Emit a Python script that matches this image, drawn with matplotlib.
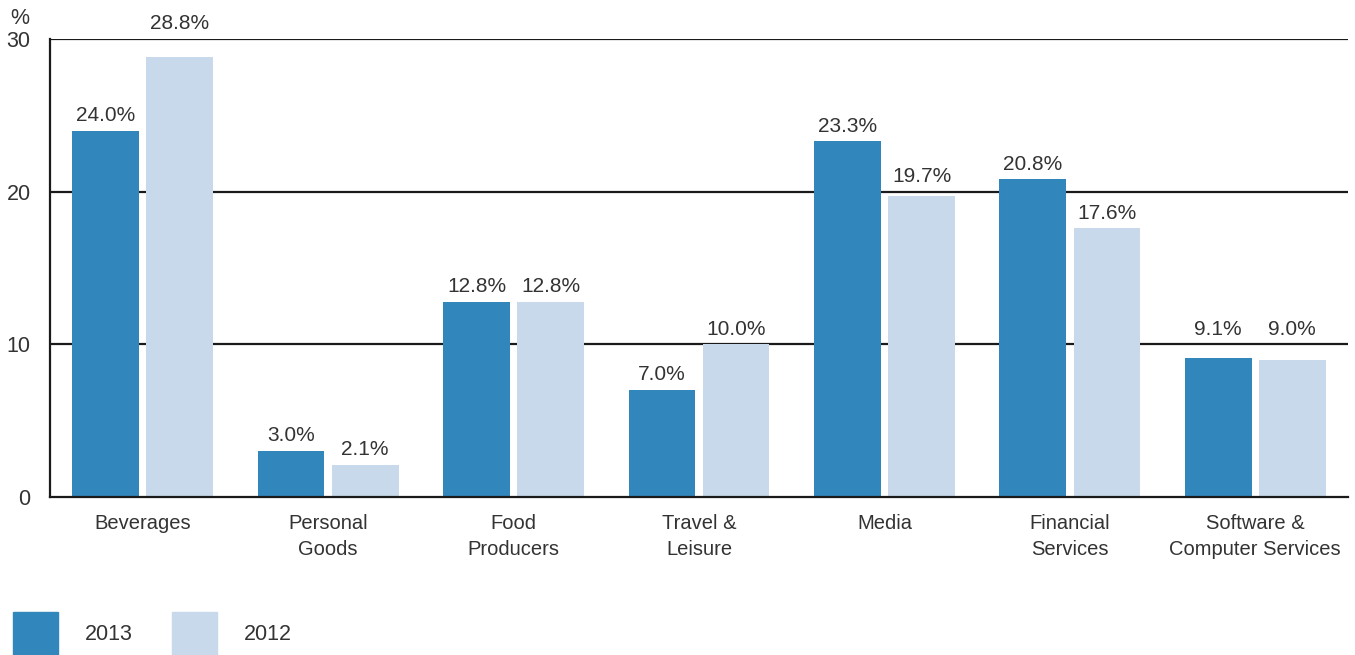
import matplotlib
matplotlib.use("Agg")
import matplotlib.pyplot as plt
import matplotlib.patches as mpatches
import numpy as np

categories = ["Beverages", "Personal\nGoods", "Food\nProducers", "Travel &\nLeisure",
              "Media", "Financial\nServices", "Software &\nComputer Services"]
values_2013 = [24.0, 3.0, 12.8, 7.0, 23.3, 20.8, 9.1]
values_2012 = [28.8, 2.1, 12.8, 10.0, 19.7, 17.6, 9.0]
series_labels = ["2013", "2012"]
y_ticks = [0, 10, 20, 30]

dark = "#3186bc"
light = "#c7d9ea"
text_col = "#333333"

plt.rcParams["font.family"] = ["Liberation Sans", "DejaVu Sans"]

fig = plt.figure(figsize=(13.55, 6.55), dpi=100)
ax = fig.add_axes([50 / 1355, 1 - 497 / 655, 1298 / 1355, 458 / 655])

x = np.arange(len(categories))
w = 0.36
off = 0.2

for yv in y_ticks[1:]:
    ax.axhline(yv, color="#1a1a1a", lw=1.6, zorder=1)

b1 = ax.bar(x - off, values_2013, width=w, color=dark, zorder=2)
b2 = ax.bar(x + off, values_2012, width=w, color=light, zorder=2)


def label_base(v):
    # lift a value label onto the gridline it would otherwise cross
    for g in y_ticks:
        if v < g < v + 1.4:
            return g
    return v


for bars, vals in ((b1, values_2013), (b2, values_2012)):
    for rect, v in zip(bars, vals):
        ax.annotate(f"{v:.1f}%", (rect.get_x() + rect.get_width() / 2, label_base(v)),
                    xytext=(0, 11), textcoords="offset points",
                    ha="center", va="center", fontsize=15, color=text_col)

ax.set_xlim(-0.5, len(categories) - 0.5)
ax.set_ylim(0, 30)
ax.set_yticks(y_ticks)
ax.set_yticklabels([str(t) for t in y_ticks], fontsize=15.5, color=text_col)
ax.set_xticks(x)
ax.set_xticklabels(categories, fontsize=14.5, color=text_col, linespacing=1.5)
ax.tick_params(axis="y", length=0, pad=14)
ax.tick_params(axis="x", length=0, pad=12)

for side in ("top", "right"):
    ax.spines[side].set_visible(False)
for side in ("left", "bottom"):
    ax.spines[side].set_color("#1a1a1a")
    ax.spines[side].set_linewidth(1.6)

fig.text(20 / 1355, 1 - 18 / 655, "%", ha="center", va="center", fontsize=15.5, color=text_col)

# legend swatches along the bottom edge
for i, (lab, col) in enumerate(zip(series_labels, [dark, light])):
    x0 = 13 + i * 159
    fig.patches.append(mpatches.Rectangle((x0 / 1355, 0), 45 / 1355, 43 / 655,
                                          transform=fig.transFigure, color=col))
    fig.text((x0 + 72) / 1355, 1 - 635 / 655, lab, ha="left", va="center",
             fontsize=15.5, color=text_col)

fig.savefig("out.png", dpi=100)
